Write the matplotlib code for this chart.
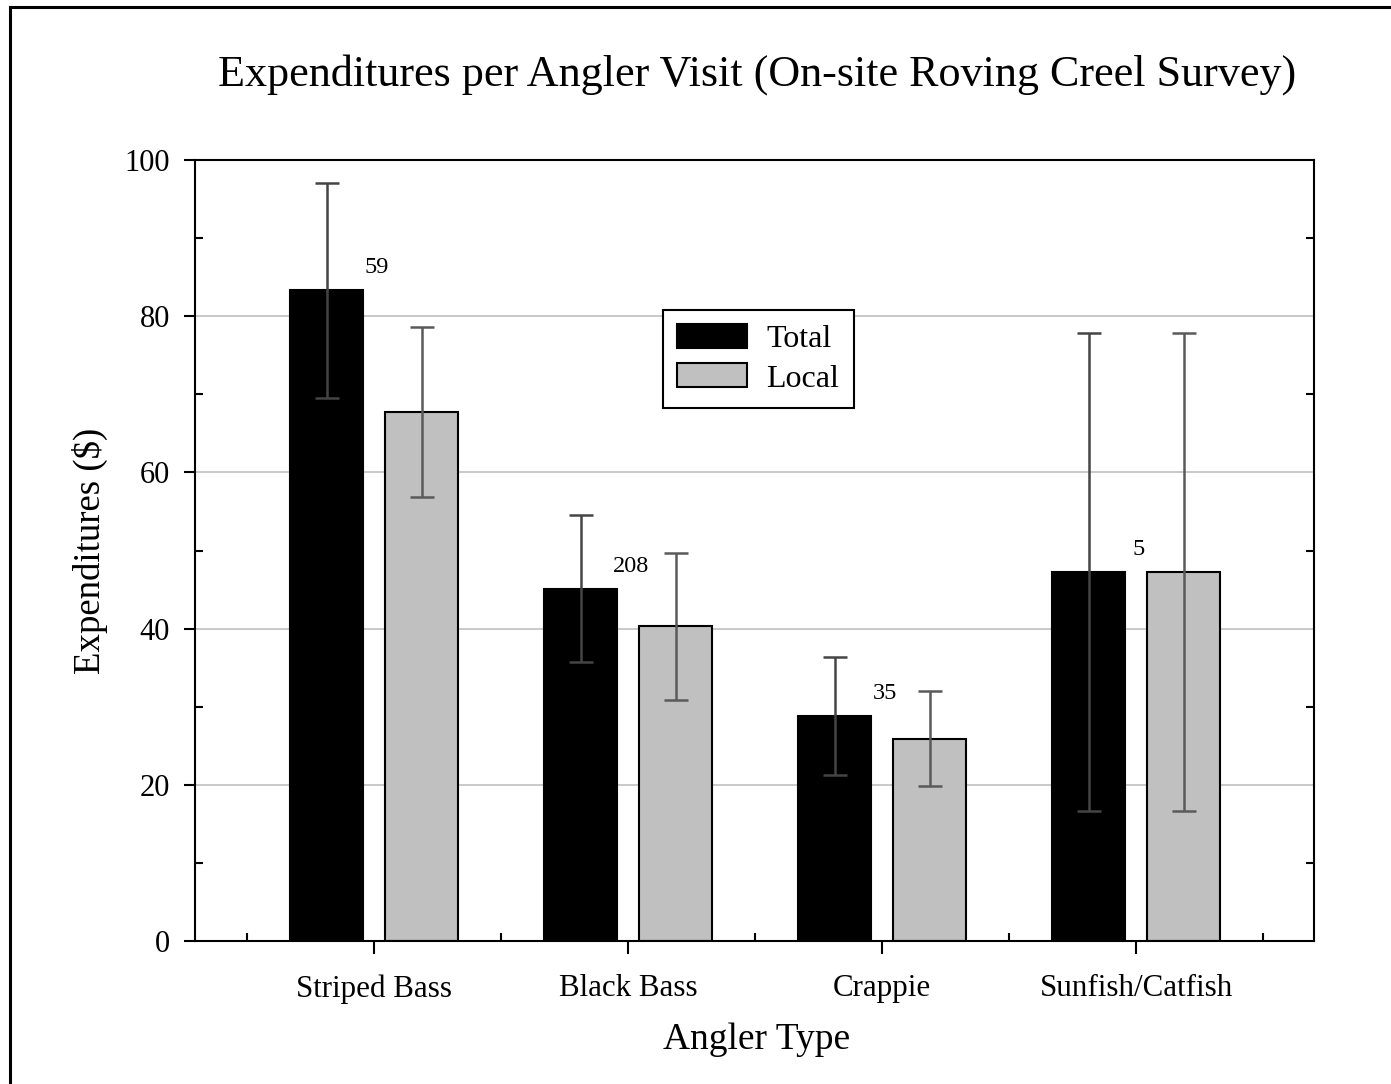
import numpy as np
import matplotlib
matplotlib.use("Agg")
import matplotlib.pyplot as plt
from matplotlib.patches import Patch
from matplotlib.lines import Line2D

plt.rcParams['font.family'] = ['Liberation Serif', 'DejaVu Serif']

# data
categories = ["Striped Bass", "Black Bass", "Crappie", "Sunfish/Catfish"]
total = [83.3, 45.1, 28.8, 47.2]
total_err = [13.8, 9.4, 7.5, 30.6]
local = [67.7, 40.3, 25.9, 47.2]
local_err = [10.9, 9.4, 6.1, 30.6]
counts = ["59", "208", "35", "5"]

x = np.arange(1, len(categories) + 1)
width = 0.287
off = 0.187

fig = plt.figure(figsize=(13.91, 10.84), dpi=100)
ax = fig.add_axes([195 / 1391, 1 - 941 / 1084, 1119 / 1391, 781 / 1084])

ax.bar(x - off, total, width, color="black", edgecolor="black", linewidth=1.5, zorder=2)
ax.bar(x + off, local, width, color="#c0c0c0", edgecolor="black", linewidth=1.5, zorder=2)
ax.errorbar(x - off, total, yerr=total_err, fmt="none", ecolor="#454545",
            elinewidth=1.8, capsize=8.3, capthick=1.8, zorder=3)
ax.errorbar(x + off, local, yerr=local_err, fmt="none", ecolor="#5a5a5a",
            elinewidth=1.8, capsize=8.3, capthick=1.8, zorder=3)

# sample sizes
for xi, t, c in zip(x, total, counts):
    ax.text(xi + 0.01, t + 2.9, c, ha="center", va="center", fontsize=17.5)

ax.set_xlim(0.295, 4.70)
ax.set_ylim(0, 100)
ax.set_xticks(x)
ax.set_xticklabels(categories, fontsize=22.3)
ax.set_xticks(np.arange(0.5, 5.0, 1.0), minor=True)
ax.set_yticks(np.arange(0, 101, 20))
ax.set_yticks(np.arange(10, 100, 20), minor=True)
ax.tick_params(axis="y", labelsize=22)

ax.tick_params(axis="x", which="major", direction="out", length=9, width=1.5, pad=15)
ax.tick_params(axis="x", which="minor", direction="in", length=6, width=1.5)
ax.tick_params(axis="y", which="major", direction="out", length=8, width=1.5, pad=10, right=False)
ax.tick_params(axis="y", which="minor", direction="in", length=6, width=1.5, left=True, right=True)

for s in ax.spines.values():
    s.set_linewidth(1.5)

ax.yaxis.grid(True, color="#c0c0c0", linewidth=1.2)
ax.set_axisbelow(True)

ax.set_ylabel("Expenditures ($)", fontsize=26.5, ha="center", va="center")
ax.yaxis.set_label_coords(-0.094, 0.5)
ax.set_xlabel("Angler Type", fontsize=27, ha="center", va="center")
ax.xaxis.set_label_coords(0.502, -0.127)

handles = [Patch(facecolor="black", edgecolor="black", linewidth=1.5),
           Patch(facecolor="#c0c0c0", edgecolor="black", linewidth=1.5)]
leg = ax.legend(handles, ["Total", "Local"], loc="upper left",
                bbox_to_anchor=(0.418, 0.808), borderaxespad=0, fontsize=23,
                fancybox=False, edgecolor="black", framealpha=1,
                handlelength=2.2, handleheight=0.78, handletextpad=0.6,
                labelspacing=0.28, borderpad=0.45)
leg.get_frame().set_linewidth(1.5)

fig.text(0.544, 0.931, "Expenditures per Angler Visit (On-site Roving Creel Survey)",
         ha="center", va="center", fontsize=31.8)

# outer frame
fig.add_artist(Line2D([10 / 1391, 10 / 1391], [0, 1 - 7 / 1084], color="black", linewidth=2.2))
fig.add_artist(Line2D([10 / 1391, 1], [1 - 7 / 1084, 1 - 7 / 1084], color="black", linewidth=2.2))

fig.savefig("out.png", dpi=100)
